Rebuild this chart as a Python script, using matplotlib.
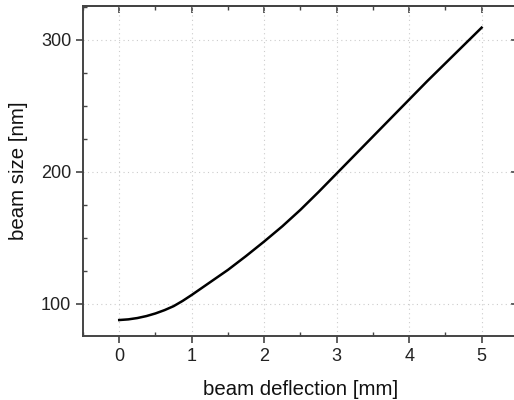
import matplotlib.pyplot as plt
from matplotlib.ticker import MultipleLocator

plt.rcParams['font.family'] = ['Liberation Sans', 'DejaVu Sans']

# beam size vs deflection
deflection = [0.0, 0.125, 0.25, 0.375, 0.5, 0.625, 0.75, 0.875, 1.0, 1.25, 1.5, 1.75, 2.0,
              2.25, 2.5, 2.75, 3.0, 3.25, 3.5, 3.75, 4.0, 4.25, 4.5, 4.75, 5.0]
beam_size = [87.5, 88, 89, 90.5, 92.5, 95, 98, 102, 106.5, 116, 125.5, 136, 147,
             158.5, 171, 184.5, 198.5, 212.5, 226.5, 240.5, 254.5, 268.5, 282, 295.5, 309]

fig = plt.figure(figsize=(5.14, 4.0), dpi=100)
ax = fig.add_axes([0.1615, 0.16, 0.846, 0.825])

ax.plot(deflection, beam_size, color='black', lw=1.8, solid_joinstyle='round')

ax.set_xlim(-0.5, 5.5)
ax.set_ylim(75.4, 325.4)
ax.xaxis.set_major_locator(MultipleLocator(1))
ax.xaxis.set_minor_locator(MultipleLocator(0.5))
ax.yaxis.set_major_locator(MultipleLocator(100))
ax.yaxis.set_minor_locator(MultipleLocator(25))

ax.grid(True, which='major', color='#cccccc', ls=(0, (1, 3)), lw=0.8)

for sp in ax.spines.values():
    sp.set_color('#444444')
    sp.set_linewidth(1.4)

ax.tick_params(which='major', direction='out', length=5, width=1.2,
               colors='#444444', labelcolor='#222222', labelsize=13)
ax.tick_params(which='minor', direction='in', length=3, width=1.0, colors='#444444')

# top and right ticks, all pointing inward, no labels
top = ax.secondary_xaxis('top')
top.xaxis.set_major_locator(MultipleLocator(1))
top.xaxis.set_minor_locator(MultipleLocator(0.5))
top.tick_params(which='major', direction='in', length=5, width=1.2, colors='#444444', labeltop=False)
top.tick_params(which='minor', direction='in', length=3, width=1.0, colors='#444444')
top.spines['top'].set_color('#444444')
top.spines['top'].set_linewidth(1.4)

right = ax.secondary_yaxis('right')
right.yaxis.set_major_locator(MultipleLocator(100))
right.yaxis.set_minor_locator(MultipleLocator(25))
right.tick_params(which='major', direction='in', length=5, width=1.2, colors='#444444', labelright=False)
right.tick_params(which='minor', direction='in', length=3, width=1.0, colors='#444444')

ax.set_xlabel('beam deflection [mm]', fontsize=14.7, color='#111111', labelpad=11)
ax.set_ylabel('beam size [nm]', fontsize=14.7, color='#111111', labelpad=9)

fig.savefig('out.png', dpi=100)
